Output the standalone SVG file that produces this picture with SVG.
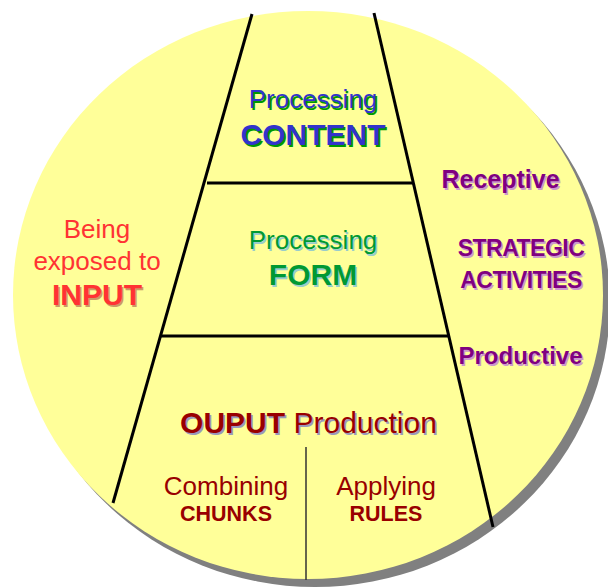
<svg xmlns="http://www.w3.org/2000/svg" width="608" height="588" viewBox="0 0 608 588">
<style>
text{font-family:"Liberation Sans",Arial,sans-serif;text-anchor:middle}
.b{font-weight:bold}
.ln{stroke:#000;stroke-width:3;fill:none}
.blue{fill:#3333cc}.blueS{fill:#009900}
.grn{fill:#009933}.grnS{fill:#99cccc}
.red{fill:#ff3333}.redS{fill:#cc9966}
.pur{fill:#800080}.purS{fill:#cc99cc}
.dr{fill:#990000}.drS{fill:#9999bb}
</style>
<g id="background">
<ellipse cx="315" cy="303" rx="295" ry="284" fill="#808080"/>
<ellipse cx="308" cy="295" rx="295" ry="284" fill="#ffff99"/>
</g>
<g id="connectors">
<line class="ln" x1="252" y1="14" x2="113" y2="503"/>
<line class="ln" x1="374" y1="13" x2="493" y2="527"/>
<line class="ln" x1="207" y1="183" x2="413" y2="183" stroke-width="3.5"/>
<line class="ln" x1="161" y1="336" x2="449" y2="336" stroke-width="3.5"/>
<line x1="306" y1="447" x2="306" y2="580" stroke="#333" stroke-width="1.5"/>
</g>
<g id="content">
<text class="blueS" x="314.5" y="109.5" font-size="26">Processing</text>
<text class="blue" x="313" y="108" font-size="26">Processing</text>
<text class="b blueS" x="314.5" y="146.5" font-size="30">CONTENT</text>
<text class="b blue" x="313" y="145" font-size="30">CONTENT</text>
</g>
<g id="form">
<text class="grnS" x="314.5" y="250.5" font-size="26">Processing</text>
<text class="grn" x="313" y="249" font-size="26">Processing</text>
<text class="b grnS" x="314.5" y="286.5" font-size="30">FORM</text>
<text class="b grn" x="313" y="285" font-size="30">FORM</text>
</g>
<g id="input">
<text class="red" x="97" y="238" font-size="26">Being</text>
<text class="red" x="97" y="270" font-size="26">exposed to</text>
<text class="b redS" x="98.5" y="306.5" font-size="30">INPUT</text>
<text class="b red" x="97" y="305" font-size="30">INPUT</text>
</g>
<g id="strategic">
<text class="b purS" x="502" y="189.5" font-size="25">Receptive</text>
<text class="b pur" x="500.5" y="188" font-size="25">Receptive</text>
<text class="b purS" x="522.5" y="257.5" font-size="23" letter-spacing="-0.5">STRATEGIC</text>
<text class="b pur" x="521" y="256" font-size="23" letter-spacing="-0.5">STRATEGIC</text>
<text class="b purS" x="522.5" y="289.5" font-size="23" letter-spacing="-0.5">ACTIVITIES</text>
<text class="b pur" x="521" y="288" font-size="23" letter-spacing="-0.5">ACTIVITIES</text>
<text class="b purS" x="522" y="365.5" font-size="24">Productive</text>
<text class="b pur" x="520.5" y="364" font-size="24">Productive</text>
</g>
<g id="output">
<text class="drS" x="310" y="434.5" font-size="30"><tspan font-weight="bold">OUPUT</tspan> Production</text>
<text class="dr" x="308.5" y="433" font-size="30"><tspan font-weight="bold">OUPUT</tspan> Production</text>
</g>
<g id="chunks">
<text class="dr" x="226" y="495" font-size="26">Combining</text>
<text class="b dr" x="226" y="521" font-size="21.5">CHUNKS</text>
</g>
<g id="rules">
<text class="dr" x="386" y="495" font-size="26">Applying</text>
<text class="b dr" x="386" y="521" font-size="21.5">RULES</text>
</g>
</svg>
